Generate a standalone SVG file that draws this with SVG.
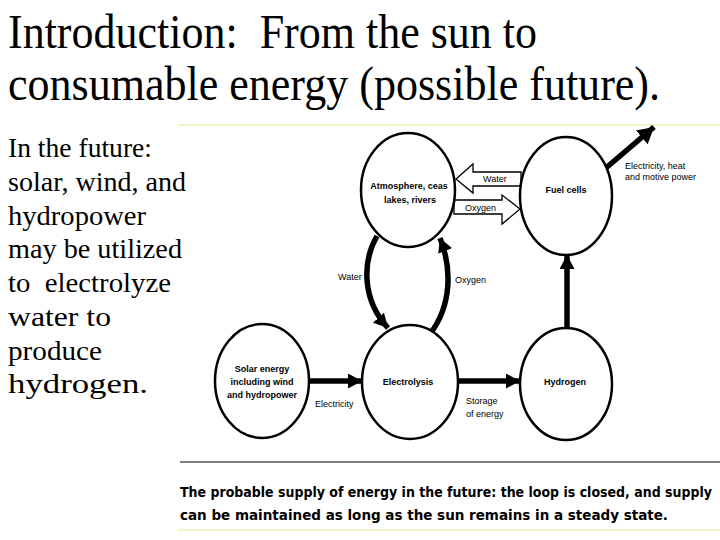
<svg xmlns="http://www.w3.org/2000/svg" width="720" height="540" viewBox="0 0 720 540">
<style>
.title{font-family:"Liberation Serif","Times New Roman",serif;font-size:48px;fill:#000;white-space:pre}
.side{font-family:"Liberation Serif","Times New Roman",serif;font-size:27px;fill:#000;white-space:pre}
.node ellipse{fill:#fff;stroke:#000;stroke-width:2.5}
.nl{font-family:"Liberation Sans",Arial,sans-serif;font-size:9px;font-weight:bold;text-anchor:middle;fill:#000}
.lab{font-family:"Liberation Sans",Arial,sans-serif;font-size:9px;fill:#000}
.thick{fill:none;stroke:#000;stroke-width:5.5}
.hollow{fill:#fff;stroke:#000;stroke-width:1.3;stroke-linejoin:miter}
.cap{font-family:"DejaVu Sans Condensed","DejaVu Sans",sans-serif;font-size:13.5px;font-weight:bold;fill:#000}
</style>
<defs>
<marker id="ah" markerUnits="userSpaceOnUse" markerWidth="16" markerHeight="16" refX="14" refY="7.5" orient="auto">
<path d="M0,0 L14,7.5 L0,15 z" fill="#000"/>
</marker>
<marker id="ahb" markerUnits="userSpaceOnUse" markerWidth="20" markerHeight="20" refX="16" refY="9" orient="auto">
<path d="M0,0 L16,9 L0,18 z" fill="#000"/>
</marker>
</defs>
<rect width="720" height="540" fill="#fff"/>
<text class="title" x="8" y="48" textLength="529" lengthAdjust="spacingAndGlyphs" xml:space="preserve">Introduction:  From the sun to</text>
<text class="title" x="8" y="100" textLength="652" lengthAdjust="spacingAndGlyphs">consumable energy (possible future).</text>
<g id="sidetext">
<text class="side" x="8" y="157" textLength="144" lengthAdjust="spacingAndGlyphs">In the future:</text>
<text class="side" x="8" y="191" textLength="178" lengthAdjust="spacingAndGlyphs">solar, wind, and</text>
<text class="side" x="8" y="225" textLength="138" lengthAdjust="spacingAndGlyphs">hydropower</text>
<text class="side" x="8" y="258" textLength="174" lengthAdjust="spacingAndGlyphs">may be utilized</text>
<text class="side" x="8" y="292" textLength="163" lengthAdjust="spacingAndGlyphs" xml:space="preserve">to  electrolyze</text>
<text class="side" x="8" y="326" textLength="103" lengthAdjust="spacingAndGlyphs">water to</text>
<text class="side" x="8" y="360" textLength="94" lengthAdjust="spacingAndGlyphs">produce</text>
<text class="side" x="8" y="393" textLength="140" lengthAdjust="spacingAndGlyphs">hydrogen.</text>
</g>
<line x1="178" y1="125" x2="720" y2="125" stroke="#f3f3c4" stroke-width="2"/>
<line x1="178" y1="530" x2="720" y2="530" stroke="#f3f3c4" stroke-width="2"/>
<line x1="180" y1="462" x2="720" y2="462" stroke="#000" stroke-width="1.2"/>
<g id="connectors">
<line class="thick" x1="305" y1="381" x2="362" y2="381" marker-end="url(#ah)"/>
<line class="thick" x1="452" y1="381" x2="520" y2="381" marker-end="url(#ah)"/>
<line class="thick" x1="567" y1="335" x2="567" y2="255" marker-end="url(#ah)"/>
<line class="thick" x1="600" y1="173" x2="654" y2="127" marker-end="url(#ahb)" stroke-width="6.5"/>
<path class="thick" d="M377,236 C362,262 362,300 388,328" marker-end="url(#ah)"/>
<path class="thick" d="M430,334 C452,305 452,268 440,238" marker-end="url(#ah)"/>
<polygon class="hollow" points="521,172 473,172 473,164 456,179 473,193 473,186 521,186"/>
<polygon class="hollow" points="454,200 502,200 502,195 520,209 502,224 502,214 454,214"/>
</g>
<g id="atmosphere" class="node">
<ellipse cx="408" cy="190" rx="47" ry="57"/>
<text class="nl" x="409" y="188.5">Atmosphere, ceas</text>
<text class="nl" x="410" y="202.5">lakes, rivers</text>
</g>
<g id="fuelcells" class="node">
<ellipse cx="566" cy="196" rx="46" ry="59"/>
<text class="nl" x="566" y="193">Fuel cells</text>
</g>
<g id="solar" class="node">
<ellipse cx="262" cy="381" rx="47" ry="57"/>
<text class="nl" x="262" y="371.5">Solar energy</text>
<text class="nl" x="262" y="385">including wind</text>
<text class="nl" x="262" y="397.5">and hydropower</text>
</g>
<g id="electrolysis" class="node">
<ellipse cx="410" cy="382" rx="48" ry="57"/>
<text class="nl" x="408" y="384.5">Electrolysis</text>
</g>
<g id="hydrogen" class="node">
<ellipse cx="566" cy="384" rx="46" ry="56"/>
<text class="nl" x="565" y="384.5">Hydrogen</text>
</g>
<g id="labels">
<text class="lab" x="483" y="182">Water</text>
<text class="lab" x="465" y="210.5" font-size="8.5">Oxygen</text>
<text class="lab" x="625" y="168.5">Electricity, heat</text>
<text class="lab" x="625" y="180">and motive power</text>
<text class="lab" x="338" y="280">Water</text>
<text class="lab" x="455" y="283">Oxygen</text>
<text class="lab" x="315" y="406.5">Electricity</text>
<text class="lab" x="466" y="404">Storage</text>
<text class="lab" x="466" y="416.5">of energy</text>
</g>
<text class="cap" x="180" y="497" textLength="532" lengthAdjust="spacingAndGlyphs">The probable supply of energy in the future: the loop is closed, and supply</text>
<text class="cap" x="180" y="520" textLength="488" lengthAdjust="spacingAndGlyphs">can be maintained as long as the sun remains in a steady state.</text>
</svg>
